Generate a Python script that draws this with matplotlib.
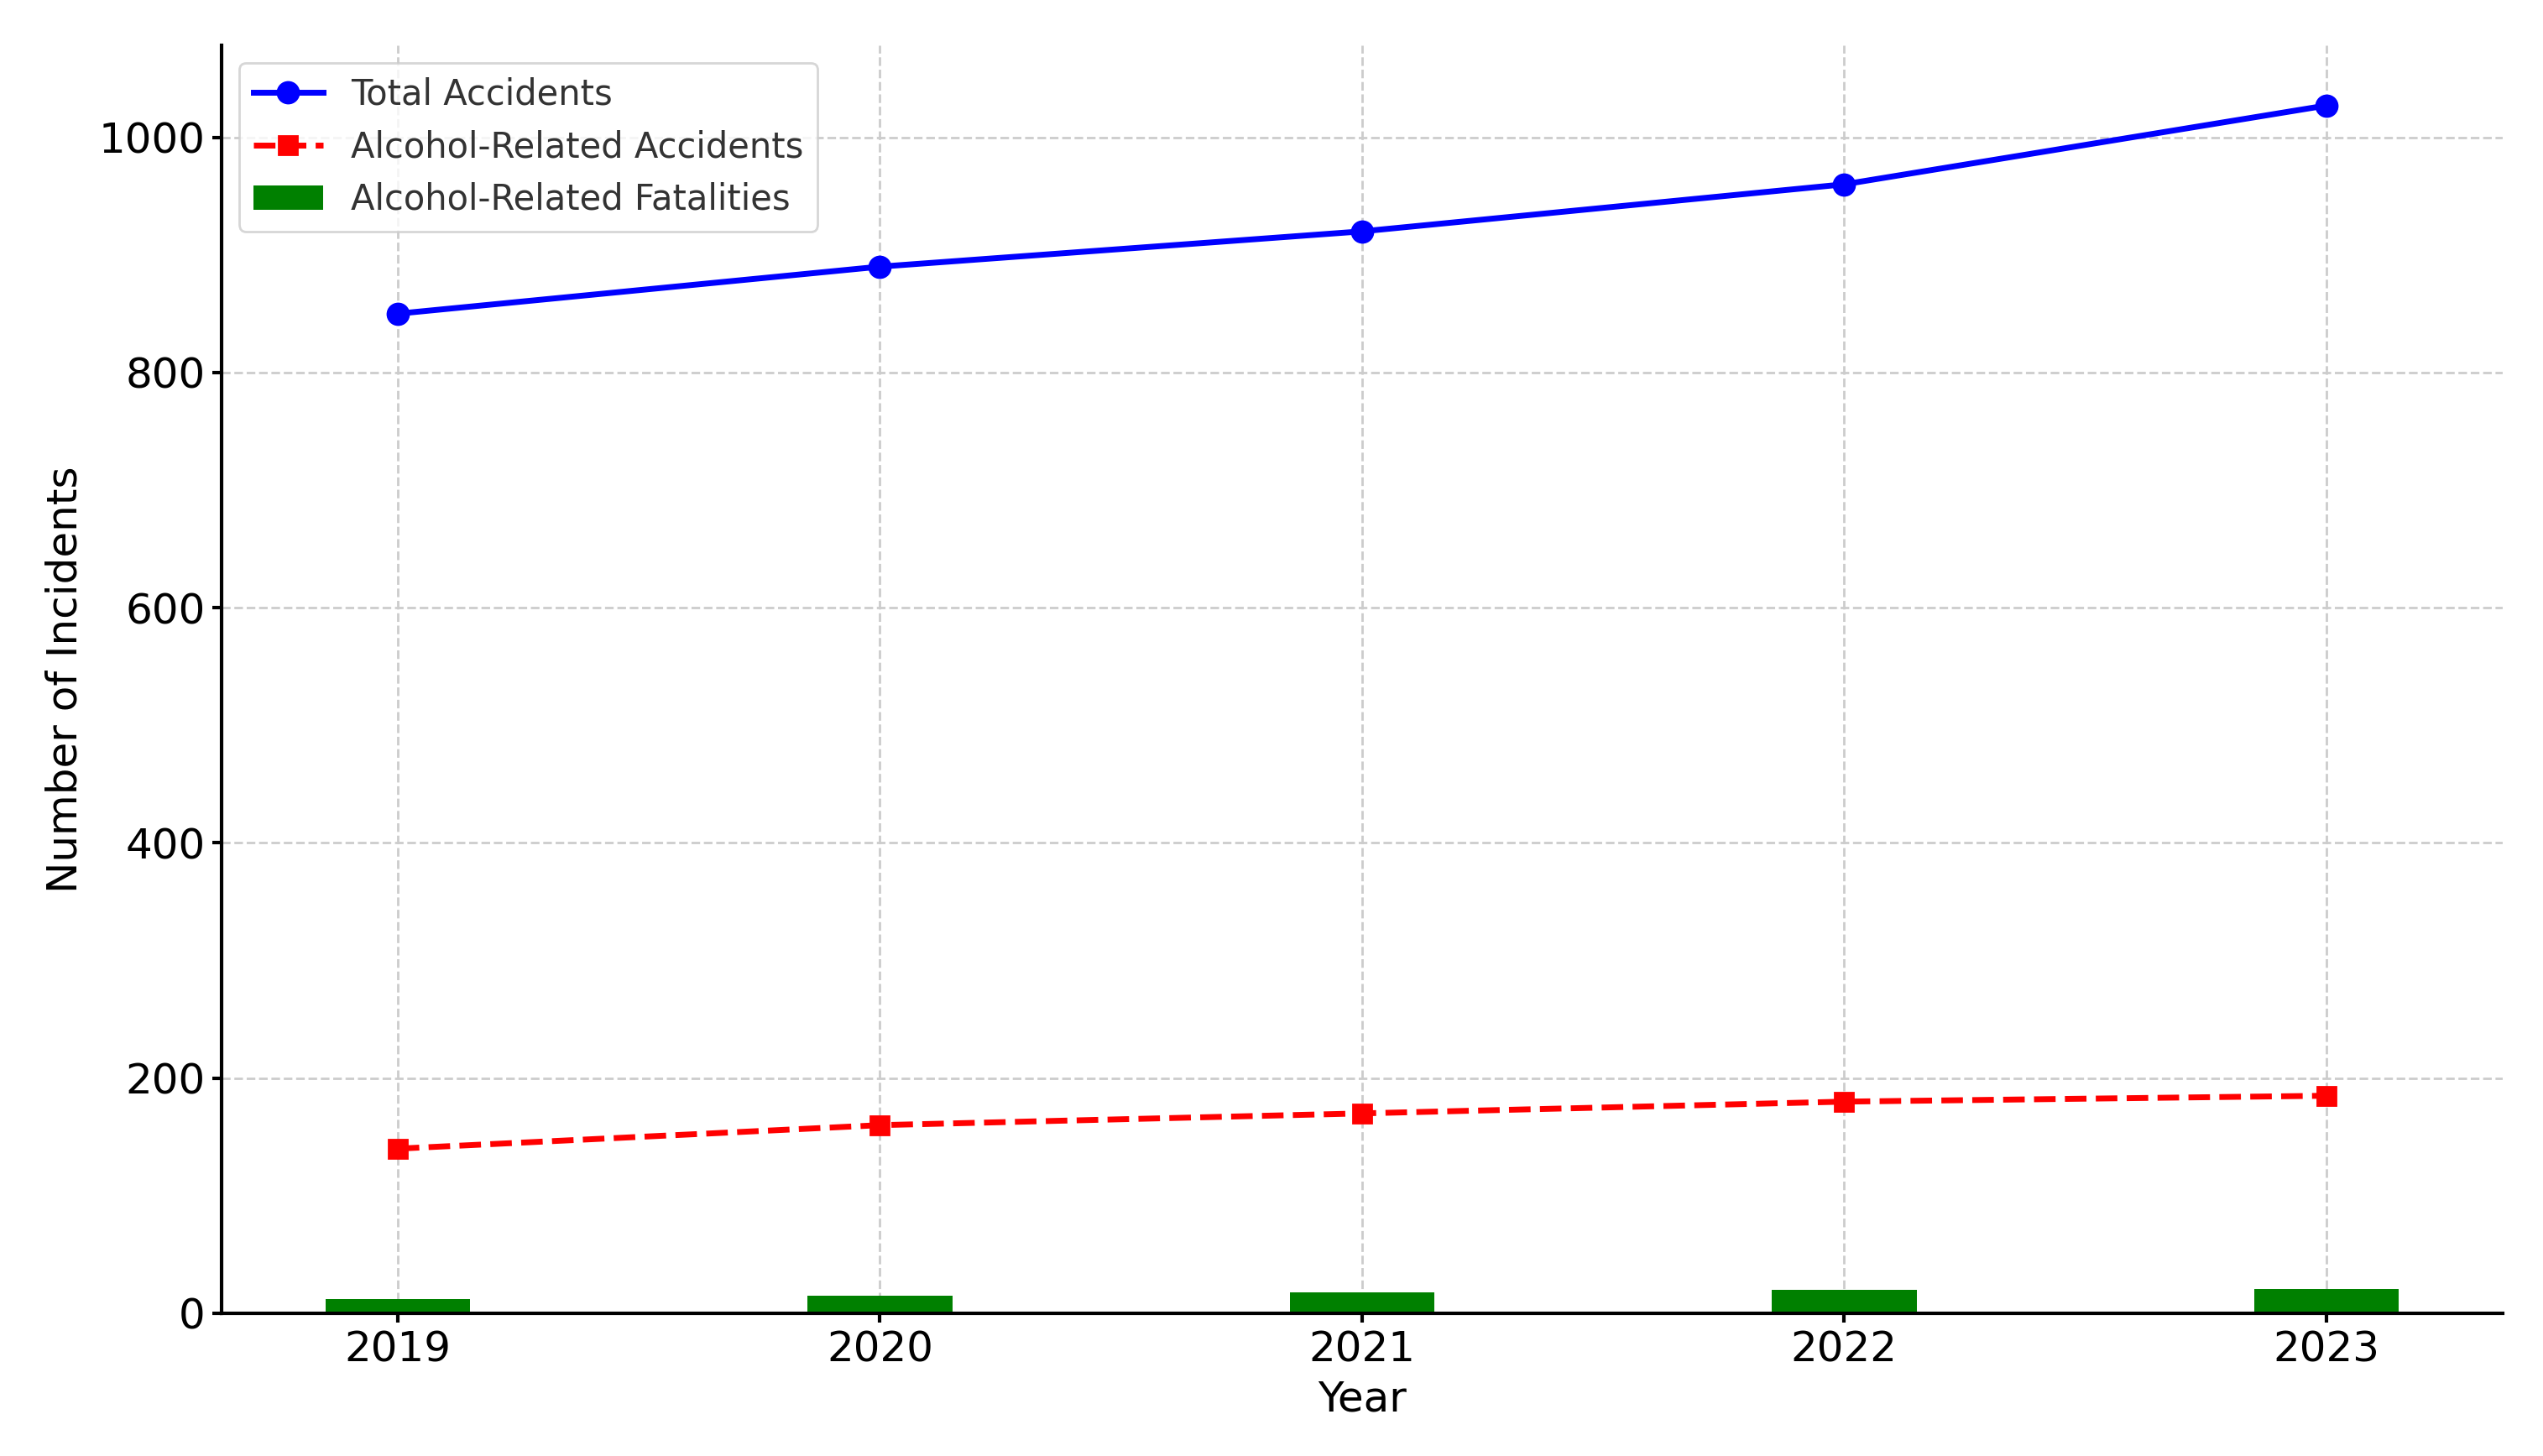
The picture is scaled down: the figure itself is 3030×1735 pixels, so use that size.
import matplotlib
matplotlib.use('Agg')
import matplotlib.pyplot as plt

years = [2019, 2020, 2021, 2022, 2023]
total_accidents = [850, 890, 920, 960, 1027]
alcohol_accidents = [140, 160, 170, 180, 185]
alcohol_fatalities = [12, 15, 18, 20, 21]

fig, ax = plt.subplots(figsize=(15.15, 8.675), dpi=200)

ax.plot(years, total_accidents, color='blue', marker='o', linestyle='-', linewidth=2.5,
        markersize=9, label='Total Accidents')
ax.plot(years, alcohol_accidents, color='red', marker='s', linestyle='--', linewidth=2.5,
        markersize=8, label='Alcohol-Related Accidents')
ax.bar(years, alcohol_fatalities, width=0.3, color='green', label='Alcohol-Related Fatalities')

ax.set_xlabel('Year', fontsize=18, labelpad=4)
ax.set_ylabel('Number of Incidents', fontsize=18, labelpad=6)
ax.set_xticks(years)
ax.tick_params(axis='both', labelsize=18, width=1.5, length=4, pad=3)
ax.grid(True, linestyle='--', color='#cccccc', linewidth=1)
ax.set_axisbelow(True)
for side in ['top', 'right']:
	ax.spines[side].set_visible(False)
for side in ['left', 'bottom']:
	ax.spines[side].set_linewidth(1.5)

leg = ax.legend(loc='upper left', fontsize=15)
for t in leg.get_texts():
	t.set_color('#333333')

fig.subplots_adjust(left=0.0872, right=0.984, top=0.969, bottom=0.098)
plt.savefig('out.png')
